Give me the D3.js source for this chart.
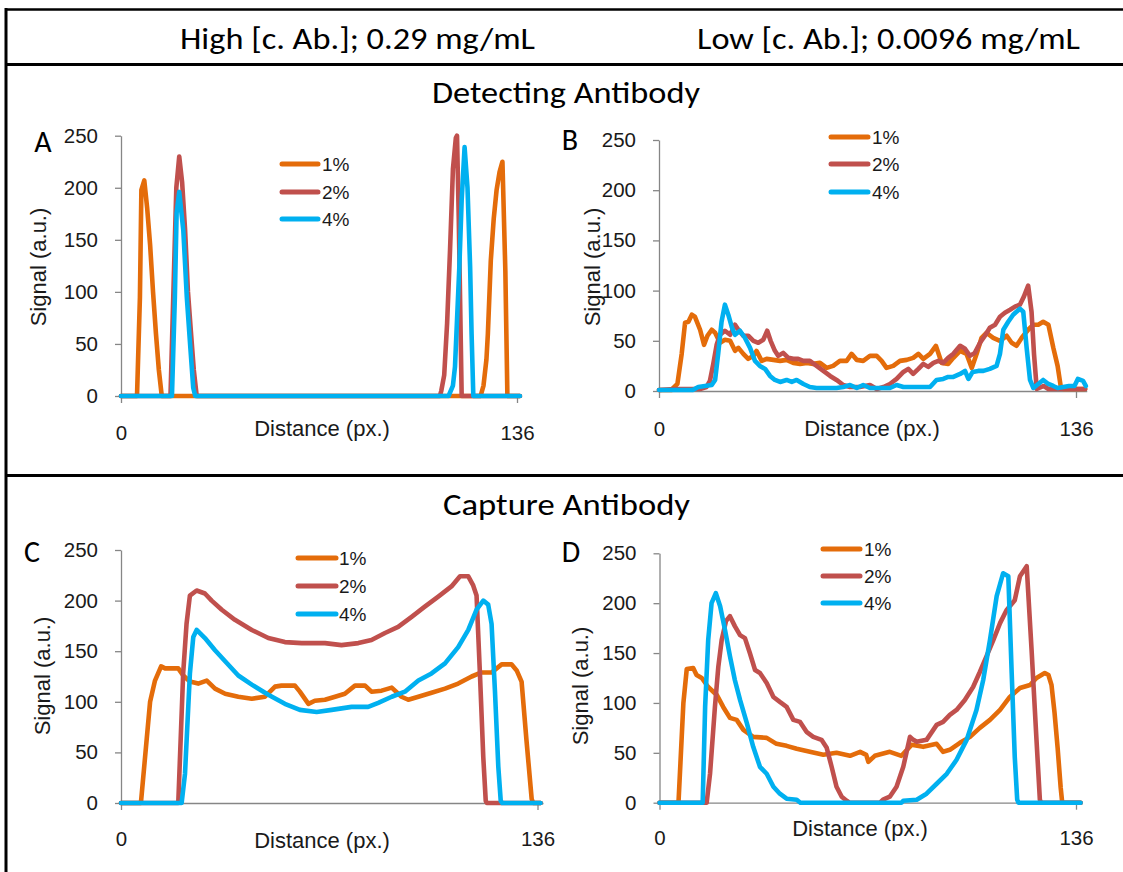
<!DOCTYPE html>
<html>
<head>
<meta charset="utf-8">
<script src="https://cdn.jsdelivr.net/npm/d3@7"></script>
<style>
  html, body { margin: 0; padding: 0; background: #fff; }
  svg { display: block; }
</style>
</head>
<body>
<svg id="fig" width="1123" height="872"></svg>
<script>
// ---------------- data ----------------
const concentrations = ["1%", "2%", "4%"];
const yTicks = [0, 50, 100, 150, 200, 250];
const xTicks = [0, 136];
const headerLabels = ["High [c. Ab.]; 0.29 mg/mL", "Low [c. Ab.]; 0.0096 mg/mL"];
const sectionLabels = ["Detecting Antibody", "Capture Antibody"];
const panelLetters = ["A", "B", "C", "D"];
const yTitle = "Signal (a.u.)";
const xTitle = "Distance (px.)";

// A: detecting antibody, high capture-antibody concentration  [distance, signal]
const detHigh1 = [[0,0],[5.5,0],[6.5,95],[7,198],[8,207],[9,180],[10,145],[11,100],[12,60],[13,25],[14,0],
  [123.5,0],[124.5,10],[125.5,35],[126,60],[127,130],[128,170],[129,198],[130,215],[131,225],[132,120],[132.7,0],[137,0]];
const detHigh2 = [[0,0],[17,0],[18,100],[19,200],[20,230],[21,205],[22,160],[23,100],[24,62],[25,25],[26,0],
  [109.5,0],[110,5],[111,20],[112,70],[113,140],[114,218],[115,248],[115.4,250],[116,170],[117,0],[137,0]];
const detHigh4 = [[0,0],[17.5,0],[18.5,95],[19.1,176],[20,196],[21.4,159],[22.6,95],[23.7,51],[24.8,8],[25.5,0],
  [112.5,0],[114,10],[114.7,28],[116.2,124],[117,188],[118,239],[119,200],[119.9,124],[120.4,60],[121,0],[137,0]];

// B: detecting antibody, low capture-antibody concentration
const detLow1 = [[0,1],[4,1],[6,7],[7.4,37],[8.5,68],[9.6,69],[10.7,76],[11.7,74],[13.4,61],[14.7,46],[15.8,55],
  [17.2,61],[18.3,58],[19.9,48],[21.5,51],[23.2,50],[24.8,40],[25.9,43],[27.5,37],[29.1,32],[30.8,35],[31.8,40],
  [33.5,30],[35.1,32],[37.3,31],[39.5,30],[41.6,31],[43.8,28],[46,27],[48.2,28],[50.3,27],[52.5,28],[54.7,23],
  [56.8,25],[59,30],[61.2,30],[62.8,37],[64.5,31],[66.6,30],[68.8,35],[71,35],[72.6,30],[74.2,23],[76.4,25],
  [78.6,30],[80.8,31],[82.9,33],[84.6,37],[86.2,32],[88.4,37],[90.3,45],[92.2,28],[94.3,27],[96,33],[98.2,40],
  [100.3,37],[102,23],[103.6,37],[105.2,53],[106.8,58],[109,53],[111.2,50],[113.4,55],[115,48],[116.6,45],
  [118.3,53],[120.4,61],[122.1,66],[123.7,66],[125.3,69],[127,66],[128.6,43],[130,25],[131,5],[132,2],[139,2]];
const detLow2 = [[0,1],[5,2],[10,2],[13.4,2],[15.5,4],[16.6,10],[17.7,27],[18.8,46],[19.9,56],[21.5,60],[23.2,56],
  [24.8,66],[25.9,61],[27.5,55],[29.1,55],[30.8,50],[32.4,48],[34,51],[35.3,60],[36.4,50],[37.8,40],[38.9,35],
  [40.5,38],[42.2,33],[43.8,32],[45.4,32],[47.1,30],[49.2,30],[51.4,25],[53.6,20],[55.8,15],[57.9,11],[60.1,6],
  [62.3,4],[65.5,4],[68.8,6],[71,2],[73.2,4],[75.3,7],[77.5,12],[79.7,19],[81.3,22],[82.9,17],[84.6,22],[86.2,27],
  [87.8,24],[89.5,28],[91.1,30],[92.7,28],[94.3,33],[96,37],[98.2,45],[99.8,42],[101.4,35],[103,38],[104.7,48],
  [106.3,55],[107.9,63],[109.6,66],[111.2,74],[112.8,78],[114.5,81],[116.1,84],[117.7,86],[119,94],[120.4,105],
  [121.5,79],[122.3,37],[123.2,2],[125.5,5],[127,2],[139,2]];
const detLow4 = [[0,1],[11,1],[12.8,4],[15,5],[17.2,6],[18.3,11],[19.3,37],[20.4,69],[21.5,86],[22.6,76],[23.7,64],
  [24.8,56],[26.4,60],[28,53],[29.7,43],[31.3,30],[32.9,25],[34.6,22],[36.2,15],[37.8,11],[39.5,9],[41.6,11],
  [43.3,9],[44.9,11],[47.1,7],[49.2,4],[51.4,3],[57.9,3],[60.1,4],[62.3,6],[64.5,3],[66.6,6],[68.8,3],[75.3,3],
  [77.5,6],[79.7,4],[88.4,4],[90.5,11],[92.7,12],[94.3,14],[96,14],[98.2,17],[99.8,20],[100.9,12],[102.3,19],
  [104.1,20],[105.8,20],[107.9,22],[110.1,25],[111.2,37],[112.3,61],[113.9,69],[115.5,76],[117.7,82],[118.8,79],
  [119.9,43],[121,11],[122.1,3],[123.7,7],[125.3,11],[127,7],[128.6,5],[130,3],[133.7,5],[135.5,5],[136.6,12],
  [138.3,10],[139.2,5]];

// C: capture antibody, high capture-antibody concentration
const capHigh1 = [[0,0],[6.5,0],[9.5,100],[11.1,121],[13.1,135],[14.4,133],[18.7,133],[20.3,126],[22.5,120],[25.2,118],
  [28,121],[30.7,113],[34,108],[38.3,105],[42.7,103],[47,105],[50.3,115],[52.4,116],[56.8,116],[58.4,110],[61.2,98],
  [63.3,101],[66.6,102],[69.9,105],[73.1,108],[76.4,116],[79.7,116],[81.8,110],[85.1,111],[88.4,114],[91.6,105],
  [93.8,102],[97.1,105],[101.4,109],[105.8,113],[110.1,118],[114.5,125],[117.7,129],[121,129],[124.3,137],
  [127.5,137],[129.2,131],[130.8,120],[132.4,62],[134.1,4],[134.6,0],[137,0]];
const capHigh2 = [[0,0],[18.7,0],[20.3,128],[21.4,177],[22.5,205],[24.7,210],[27.4,207],[29.6,200],[32.9,191],[37.2,181],
  [42.7,171],[48.1,163],[53.5,159],[59,158],[66.6,158],[72,156],[77.5,158],[81.8,161],[86.2,168],[90.5,174],
  [94.9,184],[99.2,194],[103.6,204],[107.9,214],[110.7,224],[113.4,224],[115,215],[116.1,205],[117.2,128],
  [118.3,45],[119.1,2],[119.5,0],[137,0]];
const capHigh4 = [[0,0],[19.8,0],[20.9,29],[22.5,128],[23.6,164],[24.7,171],[27.4,163],[30.7,151],[34,140],[38.3,126],
  [42.7,117],[48.1,107],[53.5,98],[58.4,92],[63.9,90],[68.8,92],[75.3,95],[80.7,95],[84,99],[88.4,105],[92.7,110],
  [97.1,121],[101.4,128],[105.8,138],[110.1,154],[113.4,171],[116.1,191],[118.3,200],[119.9,196],[121,177],
  [122.1,111],[123.2,36],[124,2],[124.5,0],[137,0]];

// D: capture antibody, low capture-antibody concentration
const capLow1 = [[0,0],[6.2,0],[7.8,100],[8.9,134],[11,135],[12.1,128],[13.8,125],[15.9,116],[18.7,108],[20.8,96],
  [23,85],[25.2,83],[27.4,73],[30.6,66],[35,65],[38.2,59],[41.5,57],[44.8,54],[49.1,51],[53.5,48],[57.8,50],
  [62.2,47],[65.5,51],[67.5,48],[68.2,41],[70.3,47],[75.2,51],[79,47],[82.3,58],[86.1,56],[90.5,59],[92.6,51],
  [94.8,53],[98.1,60],[101.4,66],[104.6,75],[107.9,83],[111.2,93],[114.4,106],[117.7,115],[121,118],[123.1,125],
  [125.8,130],[127,128],[128,118],[129,90],[130,55],[131,15],[131.5,0],[137.5,0]];
const capLow2 = [[0,0],[15.4,0],[16.5,29],[18.1,96],[19.2,136],[20.3,163],[21.7,182],[23,187],[24.6,177],[26.3,168],
  [27.9,165],[29.5,150],[31.2,133],[32.8,130],[35,120],[37.2,106],[39.3,101],[41.5,96],[43.7,83],[45.9,81],[48,71],
  [50.2,66],[52.9,63],[54.6,55],[56.2,36],[57.8,16],[59.5,6],[61.1,2],[62,0],[72,0],[73,3],[75.2,6],[77.4,16],
  [79.6,36],[81.8,66],[82.9,63],[84,61],[87.2,63],[89.4,73],[90.5,78],[92.6,81],[94.8,88],[97,93],[99.7,103],
  [102.4,116],[104.6,131],[106.8,147],[109,163],[111.2,180],[113.3,193],[116,203],[117.7,227],[119.9,237],
  [121.5,153],[123.1,63],[124.2,3],[124.6,0],[137.5,0]];
const capLow4 = [[0,0],[14.1,0],[14.9,96],[15.9,163],[17,200],[18.4,210],[19.8,197],[21.4,173],[23,147],[24.6,123],
  [26.3,103],[28.5,80],[30.6,56],[32.8,36],[35,29],[37.2,16],[39.3,9],[41.5,4],[44.8,3],[46,0],[79,0],[79.6,2],
  [84,3],[87.2,9],[90.5,19],[93.8,29],[97,43],[100.3,63],[103.5,93],[105.7,123],[107.9,163],[110.1,207],[112.2,230],
  [113.9,227],[115,130],[116,46],[116.8,3],[117.2,0],[137.5,0]];

// ---------------- styling & layout ----------------
const seriesColors = ["#E46C0A", "#C0504D", "#00B0F0"];
const textColor = "#1a1a1a";
const axisColor = "#868686";
const chartFont = "'Liberation Sans', Arial, sans-serif";
const titleFont = "Carlito, Lato, 'Open Sans', sans-serif";

const panels = [
  { letter: panelLetters[0], series: [detHigh1, detHigh2, detHigh4],
    x0: 121, x136: 517, xMax: 137.6, y0: 396, y250: 135.7, xPad: 22,
    letterPos: [43, 142], yTitlePos: [38, 267], xTitlePos: [322, 428],
    legend: { x1: 282, x2: 318, tx: 322, ys: [164, 192, 219] } },
  { letter: panelLetters[1], series: [detLow1, detLow2, detLow4],
    x0: 659, x136: 1076, xMax: 139.5, y0: 391, y250: 140, xPad: 23,
    letterPos: [570, 140], yTitlePos: [592, 267], xTitlePos: [872, 428],
    legend: { x1: 831, x2: 868, tx: 872, ys: [137, 164, 192] } },
  { letter: panelLetters[2], series: [capHigh1, capHigh2, capHigh4],
    x0: 121, x136: 537.5, xMax: 137.8, y0: 803, y250: 550, xPad: 21,
    letterPos: [32, 552], yTitlePos: [42, 676], xTitlePos: [322, 840],
    legend: { x1: 298, x2: 336, tx: 339, ys: [558, 586, 614] } },
  { letter: panelLetters[3], series: [capLow1, capLow2, capLow4],
    x0: 659.5, x136: 1076, xMax: 137.8, y0: 802.7, y250: 553.3, xPad: 21,
    letterPos: [571, 552], yTitlePos: [580, 686], xTitlePos: [860, 828],
    legend: { x1: 823, x2: 860, tx: 864, ys: [549, 576, 603] } }
];

const svg = d3.select("#fig");

// frame rules
const frame = svg.append("g").attr("stroke", "#000");
frame.append("line").attr("x1", 5).attr("x2", 1123).attr("y1", 9.5).attr("y2", 9.5).attr("stroke-width", 2.5);
frame.append("line").attr("x1", 5).attr("x2", 1123).attr("y1", 64.5).attr("y2", 64.5).attr("stroke-width", 3);
frame.append("line").attr("x1", 5).attr("x2", 1123).attr("y1", 475.5).attr("y2", 475.5).attr("stroke-width", 3);
frame.append("line").attr("x1", 6).attr("x2", 6).attr("y1", 8).attr("y2", 872).attr("stroke-width", 3);

// header and section titles
const titles = [
  { text: headerLabels[0], x: 180, y: 49, w: 355 },
  { text: headerLabels[1], x: 697, y: 49, w: 383 },
  { text: sectionLabels[0], x: 432, y: 103, w: 268 },
  { text: sectionLabels[1], x: 443, y: 515, w: 247 }
];
svg.append("g").selectAll("text").data(titles).join("text")
  .attr("x", d => d.x).attr("y", d => d.y)
  .attr("textLength", d => d.w).attr("lengthAdjust", "spacingAndGlyphs")
  .attr("font-family", titleFont).attr("font-size", 31)
  .attr("fill", "#000")
  .text(d => d.text);

// panels
panels.forEach(p => {
  const pxPerUnit = (p.x136 - p.x0) / 136;
  const x = d3.scaleLinear().domain([0, p.xMax]).range([p.x0, p.x0 + p.xMax * pxPerUnit]);
  const y = d3.scaleLinear().domain([0, 250]).range([p.y0, p.y250]);
  const g = svg.append("g");

  const yAxis = g.append("g").attr("transform", `translate(${p.x0},0)`)
    .call(d3.axisLeft(y).tickValues(yTicks).tickSize(6).tickSizeOuter(0).tickPadding(17));
  const xAxis = g.append("g").attr("transform", `translate(0,${p.y0})`)
    .call(d3.axisBottom(x).tickValues(xTicks).tickSize(7).tickSizeOuter(0).tickPadding(p.xPad));
  [yAxis, xAxis].forEach(a => {
    a.selectAll("path, line").attr("stroke", axisColor).attr("stroke-width", 1.3);
    a.selectAll("text").attr("font-family", chartFont).attr("font-size", 20.5).attr("fill", textColor);
  });

  // profile lines
  const line = d3.line().x(d => x(d[0])).y(d => y(d[1]));
  p.series.forEach((s, i) => {
    g.append("path").attr("d", line(s))
      .attr("fill", "none").attr("stroke", seriesColors[i])
      .attr("stroke-width", 4.6).attr("stroke-linejoin", "round").attr("stroke-linecap", "round");
  });

  // axis titles
  g.append("text")
    .attr("transform", `translate(${p.yTitlePos[0]},${p.yTitlePos[1]}) rotate(-90)`)
    .attr("text-anchor", "middle").attr("dy", "0.35em")
    .attr("font-family", chartFont).attr("font-size", 22).attr("fill", textColor)
    .text(yTitle);
  g.append("text")
    .attr("x", p.xTitlePos[0]).attr("y", p.xTitlePos[1]).attr("dy", "0.35em")
    .attr("text-anchor", "middle")
    .attr("font-family", chartFont).attr("font-size", 22).attr("fill", textColor)
    .text(xTitle);

  // panel letter
  g.append("text")
    .attr("x", p.letterPos[0]).attr("y", p.letterPos[1]).attr("dy", "0.34em")
    .attr("text-anchor", "middle")
    .attr("font-family", titleFont).attr("font-size", 30).attr("fill", "#000")
    .text(p.letter);

  // legend
  const lg = g.append("g");
  concentrations.forEach((c, i) => {
    lg.append("line")
      .attr("x1", p.legend.x1).attr("x2", p.legend.x2)
      .attr("y1", p.legend.ys[i]).attr("y2", p.legend.ys[i])
      .attr("stroke", seriesColors[i]).attr("stroke-width", 5).attr("stroke-linecap", "round");
    lg.append("text")
      .attr("x", p.legend.tx).attr("y", p.legend.ys[i]).attr("dy", "0.35em")
      .attr("font-family", chartFont).attr("font-size", 19).attr("fill", textColor)
      .text(c);
  });
});
</script>
</body>
</html>
